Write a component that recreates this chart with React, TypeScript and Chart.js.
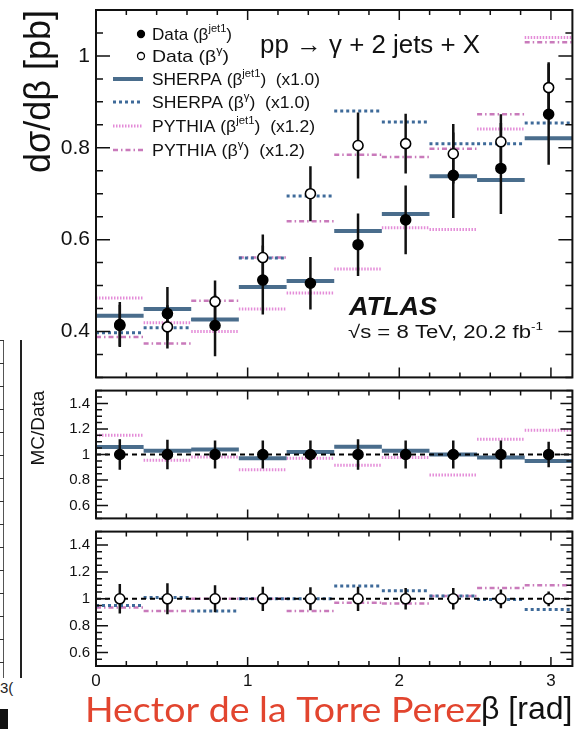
import React, { useEffect, useRef } from 'react';
import { Chart, registerables } from 'chart.js';

Chart.register(...registerables);

const FONT = '"Liberation Sans", Arial, Helvetica, sans-serif';

// ---------------- data ----------------
const X_MAX = 3.1416;
const BIN_EDGES = [0, 0.314, 0.628, 0.942, 1.257, 1.571, 1.885, 2.199, 2.513, 2.827, 3.1416];
const BIN_CENTERS = [0.157, 0.471, 0.785, 1.1, 1.414, 1.728, 2.042, 2.356, 2.67, 2.985];

const DATA_JET1 = [0.415, 0.439, 0.413, 0.512, 0.505, 0.589, 0.643, 0.74, 0.755, 0.873];
const DATA_JET1_ERR = [0.049, 0.058, 0.067, 0.075, 0.057, 0.068, 0.075, 0.093, 0.099, 0.11];
const DATA_GAMMA = [0.413, 0.41, 0.465, 0.561, 0.7, 0.805, 0.809, 0.787, 0.813, 0.931];
const DATA_GAMMA_ERR = [0.045, 0.047, 0.046, 0.05, 0.06, 0.072, 0.065, 0.065, 0.06, 0.055];

const SHERPA_JET1 = [0.434, 0.449, 0.426, 0.497, 0.51, 0.619, 0.656, 0.738, 0.73, 0.821];
const SHERPA_GAMMA = [0.397, 0.408, 0.426, 0.56, 0.695, 0.88, 0.856, 0.809, 0.809, 0.854];
const PYTHIA_JET1 = [0.473, 0.419, 0.4, 0.449, 0.484, 0.536, 0.626, 0.622, 0.841, 1.04];
const PYTHIA_GAMMA = [0.388, 0.374, 0.467, 0.561, 0.64, 0.785, 0.78, 0.798, 0.873, 1.03];

const RATIO_ONES = [1, 1, 1, 1, 1, 1, 1, 1, 1, 1];
const RATIO_SHERPA_JET1 = [1.058, 1.03, 1.04, 0.97, 1.02, 1.06, 1.03, 1.0, 0.976, 0.95];
const RATIO_PYTHIA_JET1 = [1.15, 0.955, 0.98, 0.88, 0.97, 0.915, 0.976, 0.84, 1.12, 1.19];
const RATIO_ERR_JET1 = [0.12, 0.115, 0.11, 0.11, 0.11, 0.12, 0.11, 0.11, 0.11, 0.1];
const RATIO_SHERPA_GAMMA = [0.95, 1.01, 0.91, 1.0, 1.0, 1.095, 1.06, 1.02, 0.995, 0.92];
const RATIO_PYTHIA_GAMMA = [0.935, 0.91, 1.0, 1.0, 0.91, 0.97, 0.965, 1.02, 1.08, 1.1];
const RATIO_ERR_GAMMA = [0.11, 0.115, 0.1, 0.09, 0.086, 0.09, 0.08, 0.08, 0.07, 0.055];

// tick labels
const X_MAJOR = [0, 1, 2, 3];
const X_LABELS = ['0', '1', '2', '3'];
const Y_MAIN_MAJOR = [0.4, 0.6, 0.8, 1];
const Y_MAIN_LABELS = ['0.4', '0.6', '0.8', '1'];
const Y_RATIO_MAJOR = [0.6, 0.8, 1, 1.2, 1.4];
const Y_RATIO_LABELS = ['0.6', '0.8', '1', '1.2', '1.4'];

const LEGEND_LABELS: [string, boolean][][] = [
  [['Data (β', false], ['jet1', true], [')', false]],
  [['Data (β', false], ['γ', true], [')', false]],
  [['SHERPA (β', false], ['jet1', true], [')  (x1.0)', false]],
  [['SHERPA (β', false], ['γ', true], [')  (x1.0)', false]],
  [['PYTHIA (β', false], ['jet1', true], [')  (x1.2)', false]],
  [['PYTHIA (β', false], ['γ', true], [')  (x1.2)', false]],
];

// ---------------- styles ----------------
const C_SHERPA = '#4a6d8c';
const C_SHERPA_DOT = '#3e6a99';
const C_PYTHIA = '#e48cd8';
const C_PYTHIA_DD = '#c97abb';
const STYLE_SHERPA_JET1 = { color: C_SHERPA, width: 4, dash: [] as number[] };
const STYLE_SHERPA_GAMMA = { color: C_SHERPA_DOT, width: 3, dash: [3, 3] };
const STYLE_PYTHIA_JET1 = { color: C_PYTHIA, width: 3, dash: [1.5, 1.5] };
const STYLE_PYTHIA_GAMMA = { color: C_PYTHIA_DD, width: 2.5, dash: [5, 3, 1.5, 3] };

type P = { x: number; y: number | null };

function range(a: number, b: number, step: number): number[] {
  const out: number[] = [];
  const n = Math.floor((b - a) / step + 1e-6);
  for (let i = 0; i <= n; i++) out.push(Math.round((a + i * step) * 1e6) / 1e6);
  return out;
}
const near = (v: number, arr: number[]) => arr.findIndex((m) => Math.abs(m - v) < 1e-6);

function steps(values: number[]): P[] {
  const pts: P[] = [];
  values.forEach((v, i) => {
    pts.push({ x: BIN_EDGES[i], y: v }, { x: BIN_EDGES[i + 1], y: v }, { x: BIN_EDGES[i + 1], y: null });
  });
  return pts;
}
function errorBars(values: number[], errs: number[]): P[] {
  const pts: P[] = [];
  values.forEach((v, i) => {
    pts.push({ x: BIN_CENTERS[i], y: v - errs[i] }, { x: BIN_CENTERS[i], y: v + errs[i] }, { x: BIN_CENTERS[i], y: null });
  });
  return pts;
}
const markers = (values: number[]): P[] => values.map((v, i) => ({ x: BIN_CENTERS[i], y: v }));

const stepDs = (label: string, values: number[], st: { color: string; width: number; dash: number[] }) => ({
  label,
  data: steps(values),
  showLine: true,
  borderColor: st.color,
  backgroundColor: st.color,
  borderWidth: st.width,
  borderDash: st.dash,
  borderCapStyle: 'butt',
  pointRadius: 0,
  pointHoverRadius: 0,
  spanGaps: false,
});
const errDs = (label: string, values: number[], errs: number[]) => ({
  label,
  data: errorBars(values, errs),
  showLine: true,
  borderColor: '#111',
  borderWidth: 2.5,
  pointRadius: 0,
  pointHoverRadius: 0,
  spanGaps: false,
});
const markerDs = (label: string, values: number[], filled: boolean, r: number) => ({
  label,
  data: markers(values),
  showLine: false,
  pointRadius: r,
  pointHoverRadius: r,
  pointStyle: 'circle',
  pointBackgroundColor: filled ? '#000' : '#fff',
  pointBorderColor: '#000',
  pointBorderWidth: 1.6,
});

function framePlugin(yStep: number, yMajors: number[], yMaj: number, yMin: number, xMaj: number, xMin: number) {
  return {
    id: 'rootFrame',
    afterDatasetsDraw(chart: any) {
      const { ctx, chartArea: a } = chart;
      const xs = chart.scales.x;
      const ys = chart.scales.y;
      ctx.save();
      ctx.strokeStyle = '#111';
      ctx.lineWidth = 1.5;
      ctx.setLineDash([]);
      ctx.beginPath();
      for (const v of range(0, X_MAX, 0.2)) {
        const px = xs.getPixelForValue(v);
        const L = near(v, X_MAJOR) >= 0 ? xMaj : xMin;
        ctx.moveTo(px, a.bottom);
        ctx.lineTo(px, a.bottom - L);
        ctx.moveTo(px, a.top);
        ctx.lineTo(px, a.top + L);
      }
      for (const v of range(ys.min, ys.max, yStep)) {
        const py = ys.getPixelForValue(v);
        const L = near(v, yMajors) >= 0 ? yMaj : yMin;
        ctx.moveTo(a.left, py);
        ctx.lineTo(a.left + L, py);
        ctx.moveTo(a.right, py);
        ctx.lineTo(a.right - L, py);
      }
      ctx.stroke();
      ctx.lineWidth = 2;
      ctx.strokeRect(a.left, a.top, a.right - a.left, a.bottom - a.top);
      ctx.restore();
    },
  };
}

// draws text with superscripts; optionally stretched horizontally to a target width
function richText(ctx: CanvasRenderingContext2D, x: number, y: number, parts: [string, boolean][], size: number, target?: number) {
  let total = 0;
  for (const [t, sup] of parts) {
    ctx.font = `${sup ? Math.round(size * 0.62) : size}px ${FONT}`;
    total += ctx.measureText(t).width;
  }
  const sx = target ? target / total : 1;
  ctx.save();
  ctx.translate(x, y);
  ctx.scale(sx, 1);
  let cx = 0;
  for (const [t, sup] of parts) {
    ctx.font = `${sup ? Math.round(size * 0.62) : size}px ${FONT}`;
    ctx.fillText(t, cx, sup ? -size * 0.45 : 0);
    cx += ctx.measureText(t).width;
  }
  ctx.restore();
}

const mainAnnotations = {
  id: 'mainAnnotations',
  afterDraw(chart: any) {
    const ctx: CanvasRenderingContext2D = chart.ctx;
    ctx.save();
    ctx.fillStyle = '#111';
    ctx.textBaseline = 'alphabetic';
    const baselines = [40, 62, 85, 108, 132, 156];
    const widths = [80, 77, 168, 158, 163, 153];
    const styles = [null, null, STYLE_SHERPA_JET1, STYLE_SHERPA_GAMMA, STYLE_PYTHIA_JET1, STYLE_PYTHIA_GAMMA];
    LEGEND_LABELS.forEach((parts, i) => {
      const cy = baselines[i] - 6;
      if (i === 0 || i === 1) {
        ctx.beginPath();
        ctx.arc(141, cy, 3.5, 0, Math.PI * 2);
        ctx.fillStyle = i === 0 ? '#000' : '#fff';
        ctx.fill();
        ctx.lineWidth = 1.3;
        ctx.strokeStyle = '#000';
        ctx.setLineDash([]);
        ctx.stroke();
      } else {
        const st = styles[i]!;
        ctx.beginPath();
        ctx.strokeStyle = st.color;
        ctx.lineWidth = st.width;
        ctx.setLineDash(st.dash);
        ctx.moveTo(113, cy);
        ctx.lineTo(143, cy);
        ctx.stroke();
      }
      ctx.setLineDash([]);
      ctx.fillStyle = '#111';
      richText(ctx, 152, baselines[i], parts, 17, widths[i]);
    });
    // process label
    richText(ctx, 260, 53, [['pp → γ + 2 jets + X', false]], 25, 220);
    // ATLAS label
    ctx.save();
    ctx.font = `italic bold 25px ${FONT}`;
    const aw = ctx.measureText('ATLAS').width;
    ctx.translate(349, 315);
    ctx.scale(88 / aw, 1);
    ctx.fillText('ATLAS', 0, 0);
    ctx.restore();
    richText(ctx, 348, 338, [['√s = 8 TeV, 20.2 fb', false], ['-1', true]], 18, 195);
    ctx.restore();
  },
};

const authorText = {
  id: 'authorText',
  afterDraw(chart: any) {
    const ctx: CanvasRenderingContext2D = chart.ctx;
    ctx.save();
    const text = 'Hector de la Torre Perez';
    ctx.font = `35px Lato, "Open Sans", sans-serif`;
    const w = ctx.measureText(text).width;
    ctx.translate(85, 197);
    ctx.scale(397 / w, 1);
    ctx.fillStyle = '#e2452f';
    ctx.textBaseline = 'alphabetic';
    ctx.fillText(text, 0, 0);
    ctx.restore();
  },
};

function yScale(min: number, max: number, majors: number[], labels: string[], size: number, title: any) {
  return {
    type: 'linear',
    min,
    max,
    position: 'left',
    grid: { display: false, drawTicks: false },
    border: { display: false },
    afterBuildTicks: (s: any) => {
      s.ticks = majors.map((v) => ({ value: v }));
    },
    afterFit: (s: any) => {
      s.width = 96;
      s.paddingTop = 0;
      s.paddingBottom = 0;
      s.paddingLeft = 0;
      s.paddingRight = 0;
    },
    ticks: {
      autoSkip: false,
      padding: 6,
      color: '#111',
      font: { family: FONT, size },
      callback: (v: number) => {
        const i = near(v, majors);
        return i >= 0 ? labels[i] : '';
      },
    },
    title,
  };
}

function xScale(show: boolean) {
  return {
    type: 'linear',
    min: 0,
    max: X_MAX,
    display: show,
    grid: { display: false, drawTicks: false },
    border: { display: false },
    afterBuildTicks: (s: any) => {
      s.ticks = X_MAJOR.map((v) => ({ value: v }));
    },
    afterFit: (s: any) => {
      if (show) s.height = 63;
      s.paddingLeft = 0;
      s.paddingRight = 0;
      s.paddingTop = 0;
      s.paddingBottom = 0;
    },
    ticks: {
      autoSkip: false,
      maxRotation: 0,
      padding: 5,
      color: '#111',
      font: { family: FONT, size: 17 },
      callback: (v: number) => {
        const i = near(v, X_MAJOR);
        return i >= 0 ? X_LABELS[i] : '';
      },
    },
    title: {
      display: show,
      text: 'β [rad]',
      align: 'end',
      color: '#111',
      font: { family: FONT, size: 32 },
      padding: { top: 0, bottom: 0 },
    },
  };
}

const baseOptions = (padding: any) => ({
  animation: false,
  responsive: false,
  maintainAspectRatio: false,
  devicePixelRatio: 1,
  events: [],
  layout: { padding },
  plugins: { legend: { display: false }, tooltip: { enabled: false } },
});

const refLine = () => ({
  label: 'ratio = 1',
  data: [{ x: 0, y: 1 }, { x: X_MAX, y: 1 }],
  showLine: true,
  borderColor: '#000',
  borderWidth: 2,
  borderDash: [5, 4],
  pointRadius: 0,
  pointHoverRadius: 0,
});

function buildMain(canvas: HTMLCanvasElement) {
  return new Chart(canvas, {
    type: 'scatter',
    data: {
      datasets: [
        markerDs('Data (β jet1)', DATA_JET1, true, 5),
        markerDs('Data (β γ)', DATA_GAMMA, false, 5),
        errDs('Data jet1 err', DATA_JET1, DATA_JET1_ERR),
        errDs('Data γ err', DATA_GAMMA, DATA_GAMMA_ERR),
        stepDs('SHERPA jet1', SHERPA_JET1, STYLE_SHERPA_JET1),
        stepDs('SHERPA γ', SHERPA_GAMMA, STYLE_SHERPA_GAMMA),
        stepDs('PYTHIA jet1', PYTHIA_JET1, STYLE_PYTHIA_JET1),
        stepDs('PYTHIA γ', PYTHIA_GAMMA, STYLE_PYTHIA_GAMMA),
      ] as any,
    },
    options: {
      ...baseOptions({ left: 0, right: 2, top: 10, bottom: 2 }),
      scales: {
        x: xScale(false),
        y: yScale(0.3, 1.1, Y_MAIN_MAJOR, Y_MAIN_LABELS, 21, {
          display: true,
          text: 'dσ/dβ [pb]',
          align: 'end',
          color: '#111',
          font: { family: FONT, size: 36 },
          padding: { top: 18, bottom: 0 },
        }),
      },
    } as any,
    plugins: [framePlugin(0.05, Y_MAIN_MAJOR, 14, 7, 10, 5), mainAnnotations],
  });
}

function buildRatio1(canvas: HTMLCanvasElement) {
  return new Chart(canvas, {
    type: 'scatter',
    data: {
      datasets: [
        markerDs('Data jet1', RATIO_ONES, true, 5),
        errDs('Data jet1 err', RATIO_ONES, RATIO_ERR_JET1),
        refLine(),
        stepDs('SHERPA jet1 / Data', RATIO_SHERPA_JET1, STYLE_SHERPA_JET1),
        stepDs('PYTHIA jet1 / Data', RATIO_PYTHIA_JET1, STYLE_PYTHIA_JET1),
      ] as any,
    },
    options: {
      ...baseOptions({ left: 0, right: 2, top: 3, bottom: 2 }),
      scales: {
        x: xScale(false),
        y: yScale(0.5, 1.5, Y_RATIO_MAJOR, Y_RATIO_LABELS, 15, {
          display: true,
          text: 'MC/Data',
          align: 'end',
          color: '#111',
          font: { family: FONT, size: 19 },
          padding: { top: 27, bottom: 0 },
        }),
      },
    } as any,
    plugins: [framePlugin(0.05, Y_RATIO_MAJOR, 12, 6, 9, 5)],
  });
}

function buildRatio2(canvas: HTMLCanvasElement) {
  return new Chart(canvas, {
    type: 'scatter',
    data: {
      datasets: [
        markerDs('Data γ', RATIO_ONES, false, 5),
        errDs('Data γ err', RATIO_ONES, RATIO_ERR_GAMMA),
        refLine(),
        stepDs('SHERPA γ / Data', RATIO_SHERPA_GAMMA, STYLE_SHERPA_GAMMA),
        stepDs('PYTHIA γ / Data', RATIO_PYTHIA_GAMMA, STYLE_PYTHIA_GAMMA),
      ] as any,
    },
    options: {
      ...baseOptions({ left: 0, right: 2, top: 5, bottom: 0 }),
      scales: {
        x: xScale(true),
        y: yScale(0.5, 1.5, Y_RATIO_MAJOR, Y_RATIO_LABELS, 15, { display: false }),
      },
    } as any,
    plugins: [framePlugin(0.05, Y_RATIO_MAJOR, 12, 6, 9, 5), authorText],
  });
}

function ChartCanvas({ top, height, build }: { top: number; height: number; build: (c: HTMLCanvasElement) => Chart }) {
  const ref = useRef<HTMLCanvasElement>(null);
  useEffect(() => {
    if (!ref.current) return;
    const chart = build(ref.current);
    return () => chart.destroy();
  }, [build]);
  return (
    <canvas
      ref={ref}
      width={579}
      height={height}
      style={{ position: 'absolute', left: 0, top, width: 579, height }}
    />
  );
}

export default function App() {
  const edgeTicks = range(340, 670, 23);
  return (
    <div style={{ position: 'absolute', left: 0, top: 0, width: 579, height: 729, background: '#fff', overflow: 'hidden' }}>
      {/* cropped neighbouring figure at the left edge */}
      <div style={{ position: 'absolute', left: 20, top: 340, width: 2, height: 338, background: '#222' }} />
      <div style={{ position: 'absolute', left: 3, top: 340, width: 1, height: 338, background: '#555' }} />
      {edgeTicks.map((y) => (
        <div key={y} style={{ position: 'absolute', left: 0, top: y, width: 4, height: 1, background: '#333' }} />
      ))}
      <div style={{ position: 'absolute', left: 0, top: 679, font: `15px ${FONT}`, color: '#222' }}>3(</div>
      <div style={{ position: 'absolute', left: 0, top: 709, width: 8, height: 20, background: '#111' }} />
      <ChartCanvas top={0} height={384} build={buildMain} />
      <ChartCanvas top={384} height={141} build={buildRatio1} />
      <ChartCanvas top={525} height={204} build={buildRatio2} />
    </div>
  );
}
